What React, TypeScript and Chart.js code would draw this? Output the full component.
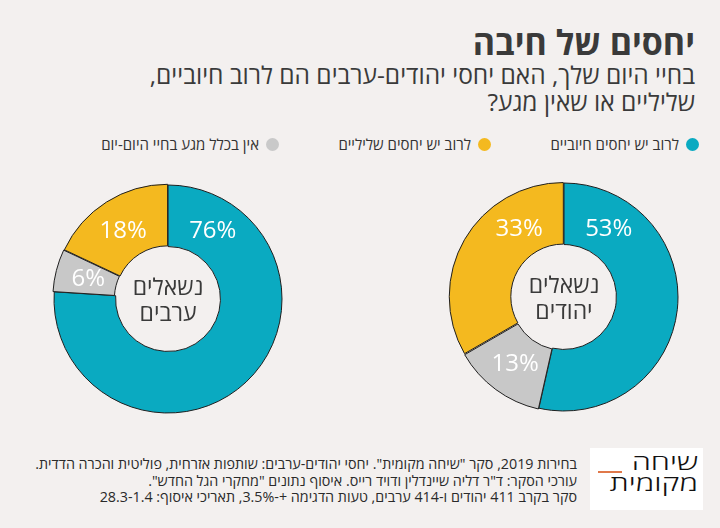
import React, { useEffect, useRef } from 'react';
import { Chart, registerables } from 'chart.js';

Chart.register(...registerables);

// ---- data ----
const categories = ['לרוב יש יחסים חיוביים', 'אין בכלל מגע בחיי היום-יום', 'לרוב יש יחסים שליליים'];
const arabValues = [76, 6, 18];
const jewishValues = [53, 13, 33];
const arabCenter = ['נשאלים', 'ערבים'];
const jewishCenter = ['נשאלים', 'יהודים'];
const legendOrder = [0, 2, 1];

const title = 'יחסים של חיבה';
const subtitle1 = 'בחיי היום שלך, האם יחסי יהודים-ערבים הם לרוב חיוביים,';
const subtitle2 = 'שליליים או שאין מגע?';
const footer = [
  'בחירות 2019, סקר "שיחה מקומית". יחסי יהודים-ערבים: שותפות אזרחית, פוליטית והכרה הדדית.',
  'עורכי הסקר: ד"ר דליה שיינדלין ודויד רייס. איסוף נתונים "מחקרי הגל החדש".',
  'סקר בקרב 411 יהודים ו-414 ערבים, טעות הדגימה +-3.5%, תאריכי איסוף: 28.3-1.4',
];
const logoLines = ['שיחה', 'מקומית'];

// ---- styles ----
const COLORS = ['#0aaac1', '#c8c8c8', '#f4b91f'];
const LEGEND_COLORS = ['#0aaac1', '#c9c9c9', '#f4b91f'];
const BG = '#f3f0ef';
const TEXT = '#3a3a3a';
const FONT = '"Open Sans", "DejaVu Sans", sans-serif';
const TOP_LABEL_ANGLE = (33 * Math.PI) / 180;

const labelPlugin = (centerLines: string[]) => ({
  id: 'donutLabels',
  afterDatasetsDraw(chart: any) {
    const ctx = chart.ctx as CanvasRenderingContext2D;
    const meta = chart.getDatasetMeta(0);
    const data = chart.data.datasets[0].data as number[];
    ctx.save();
    ctx.textAlign = 'center';
    ctx.textBaseline = 'middle';
    ctx.fillStyle = '#ffffff';
    ctx.font = `500 24px ${FONT}`;
    let cx = 0, cy = 0;
    meta.data.forEach((arc: any, i: number) => {
      const p = arc.getProps(['x', 'y', 'startAngle', 'endAngle', 'innerRadius', 'outerRadius'], true);
      cx = p.x; cy = p.y;
      let a = (p.startAngle + p.endAngle) / 2;
      if (data[i] >= 15) {
        if (Math.abs(p.startAngle + Math.PI / 2) < 0.01) a = -Math.PI / 2 + TOP_LABEL_ANGLE;
        else a = (3 * Math.PI) / 2 - TOP_LABEL_ANGLE;
      }
      const r = (p.innerRadius + p.outerRadius) / 2 - 1;
      ctx.fillText(`${data[i]}%`, p.x + Math.cos(a) * r, p.y + Math.sin(a) * r + 1);
    });
    ctx.fillStyle = TEXT;
    ctx.font = `400 23px ${FONT}`;
    ctx.direction = 'rtl';
    ctx.fillText(centerLines[0], cx, cy - 11);
    ctx.fillText(centerLines[1], cx, cy + 15);
    ctx.restore();
  },
});

function Donut({ values, centerLines, left, top }: { values: number[]; centerLines: string[]; left: number; top: number }) {
  const ref = useRef<HTMLCanvasElement>(null);
  useEffect(() => {
    const chart = new Chart(ref.current!, {
      type: 'doughnut',
      data: {
        labels: categories,
        datasets: [
          {
            data: values,
            backgroundColor: COLORS,
            borderColor: '#1f1f1f',
            borderWidth: 1,
            offset: [0, 3, 3],
          },
        ],
      },
      options: {
        responsive: false,
        animation: false,
        cutout: '46%',
        plugins: { legend: { display: false }, tooltip: { enabled: false } },
      },
      plugins: [labelPlugin(centerLines)],
    } as any);
    return () => chart.destroy();
  }, []);
  return (
    <canvas
      ref={ref}
      width={232}
      height={232}
      style={{ position: 'absolute', left, top, width: 232, height: 232 }}
    />
  );
}

export default function App() {
  const legendRights = [21, 229, 441];
  return (
    <div
      style={{
        position: 'fixed',
        left: 0,
        top: 0,
        width: 720,
        height: 528,
        background: BG,
        overflow: 'hidden',
        fontFamily: FONT,
        color: TEXT,
      }}
    >
      <div dir="rtl" style={{ position: 'absolute', right: 25, top: 22, fontSize: 34, fontWeight: 700, lineHeight: '40px', whiteSpace: 'nowrap' }}>
        {title}
      </div>
      <div dir="rtl" style={{ position: 'absolute', right: 25, top: 61, fontSize: 24.5, fontWeight: 400, lineHeight: '27px', whiteSpace: 'nowrap' }}>
        <div>{subtitle1}</div>
        <div>{subtitle2}</div>
      </div>
      {legendOrder.map((ci, k) => (
        <div
          key={ci}
          dir="rtl"
          style={{ position: 'absolute', right: legendRights[k], top: 134, height: 20, display: 'flex', alignItems: 'center', gap: 7, fontSize: 15, whiteSpace: 'nowrap', color: '#333' }}
        >
          <span style={{ width: 13, height: 13, borderRadius: '50%', background: LEGEND_COLORS[ci], display: 'inline-block', flex: 'none' }} />
          <span>{categories[ci]}</span>
        </div>
      ))}
      <Donut values={arabValues} centerLines={arabCenter} left={51.5} top={182.5} />
      <Donut values={jewishValues} centerLines={jewishCenter} left={447.5} top={180.5} />
      <div dir="rtl" style={{ position: 'absolute', right: 143, top: 456, fontSize: 14.3, lineHeight: '16.5px', whiteSpace: 'nowrap', color: '#2a2a2a' }}>
        {footer.map((l, i) => (
          <div key={i}>{l}</div>
        ))}
      </div>
      <div style={{ position: 'absolute', left: 590, top: 448, width: 113, height: 62, background: '#ffffff' }}>
        <div
          dir="rtl"
          style={{
            position: 'absolute',
            right: 5,
            top: 3,
            fontSize: 22,
            fontWeight: 300,
            lineHeight: '21px',
            color: '#111',
            whiteSpace: 'nowrap',
            textAlign: 'right',
            transform: 'scaleX(1.4)',
            transformOrigin: 'right top',
          }}
        >
          <div>{logoLines[0]}</div>
          <div>{logoLines[1]}</div>
        </div>
        <div style={{ position: 'absolute', left: 8, top: 23, width: 24, height: 2, background: '#e0784a' }} />
      </div>
    </div>
  );
}
